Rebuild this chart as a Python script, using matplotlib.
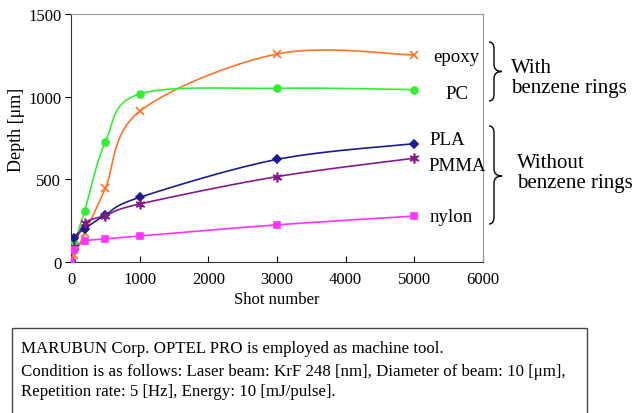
import numpy as np
import matplotlib
matplotlib.use('Agg')
import matplotlib.pyplot as plt
from matplotlib.path import Path
from matplotlib.patches import PathPatch, Rectangle

plt.rcParams['font.family'] = ['Liberation Serif', 'DejaVu Serif']

# data
shots = [0, 50, 200, 500, 1000, 3000, 5000]
epoxy = [0, 45, 175, 446, 911, 1257, 1251]
pc = [0, 115, 311, 726, 1016, 1050, 1042]
pla = [0, 145, 201, 285, 392, 621, 716]
pmma = [0, 95, 235, 282, 352, 517, 628]
nylon = [5, 75, 127, 141, 159, 226, 279]

names = ['epoxy', 'PC', 'PLA', 'PMMA', 'nylon']
series = [epoxy, pc, pla, pmma, nylon]
colors = ['#FF7326', '#33EE33', '#1C1C8E', '#86198C', '#FF33FF']
markers = ['x', 'o', 'D', (6, 2, 0), 's']
msizes = [6, 5, 4, 7, 5]

# label positions (pixels from top-left) for the names on the right
lab_pos = [(433, 61.7), (445, 99), (429, 145), (428, 170.7), (430, 221.7)]

W, H = 634, 414
fig = plt.figure(figsize=(W/100, H/100), dpi=100)
ax = fig.add_axes([71/W, 1-263.3/H, (483-71)/W, (263.3-14.7)/H])
ax.set_xlim(0, 6000)
ax.set_ylim(0, 1500)


def smooth(xs, ys, n=30):
    # excel-like smoothed line, done in pixel space
    pts = ax.transData.transform(np.column_stack([xs, ys]))
    out = []
    for i in range(len(pts)-1):
        p0 = pts[max(i-1, 0)]
        p1 = pts[i]
        p2 = pts[i+1]
        p3 = pts[min(i+2, len(pts)-1)]
        c1 = p1 + (p2-p0)/6
        c2 = p2 - (p3-p1)/6
        t = np.linspace(0, 1, n)[:, None]
        b = (1-t)**3*p1 + 3*(1-t)**2*t*c1 + 3*(1-t)*t**2*c2 + t**3*p2
        out.append(b if i == 0 else b[1:])
    out = np.vstack(out)
    d = ax.transData.inverted().transform(out)
    return d[:, 0], d[:, 1]


for i in range(len(series)):
    sx, sy = smooth(shots, series[i])
    ax.plot(sx, sy, color=colors[i], lw=1.2, zorder=2+i*0.1)
    ax.plot(shots, series[i], ls='none', marker=markers[i], ms=msizes[i],
            color=colors[i], mec=colors[i], mew=1.2, zorder=3+i*0.1)
    fig.text(lab_pos[i][0]/W, 1-lab_pos[i][1]/H, names[i], fontsize=13.6,
             va='baseline', ha='left')

ax.set_xticks([0, 1000, 2000, 3000, 4000, 5000, 6000])
ax.set_yticks([0, 500, 1000, 1500])
ax.tick_params(axis='x', direction='in', length=4, labelsize=12, pad=6)
ax.tick_params(axis='y', direction='out', length=4, labelsize=12, pad=3)
for s in ['top', 'right']:
    ax.spines[s].set_color('#999999')
for s in ['left', 'bottom']:
    ax.spines[s].set_color('#333333')
ax.set_xlabel('Shot number', fontsize=12, labelpad=3)
ax.set_ylabel('Depth [\u03bcm]', fontsize=13)
ax.yaxis.set_label_coords(-0.112, 0.536)


def brace(top, bot, mid, x0=489, xm=494, tip=502):
    r = 7
    verts = [(x0, top), (xm, top), (xm, top+r), (xm, top+r),
             (xm, mid-r), (xm, mid), (tip, mid),
             (xm, mid), (xm, mid+r), (xm, mid+r),
             (xm, bot-r), (xm, bot), (x0, bot)]
    codes = [Path.MOVETO, Path.CURVE3, Path.CURVE3, Path.LINETO,
             Path.LINETO, Path.CURVE3, Path.CURVE3,
             Path.CURVE3, Path.CURVE3, Path.LINETO,
             Path.LINETO, Path.CURVE3, Path.CURVE3]
    v = [(x/W, 1-y/H) for x, y in verts]
    fig.add_artist(PathPatch(Path(v, codes), fc='none', ec='black', lw=1.0,
                             transform=fig.transFigure))


brace(43, 102, 72.5)
brace(127, 225, 177)

fig.text(511/W, 1-72.7/H, 'With', fontsize=15, va='baseline')
fig.text(511/W, 1-92.7/H, 'benzene rings', fontsize=15, va='baseline')
fig.text(517/W, 1-168.3/H, 'Without', fontsize=15, va='baseline')
fig.text(517/W, 1-188.3/H, 'benzene rings', fontsize=15, va='baseline')

# condition box
fig.add_artist(Rectangle((12/W, -0.01), (587-12)/W, 1-329.3/H+0.01,
                         fc='white', ec='#444444', lw=1.0,
                         transform=fig.transFigure))
box_lines = ['MARUBUN Corp. OPTEL PRO is employed as machine tool.',
             'Condition is as follows: Laser beam: KrF 248 [nm], Diameter of beam: 10 [\u03bcm],',
             'Repetition rate: 5 [Hz], Energy: 10 [mJ/pulse].']
for j, yb in enumerate([352.7, 375.7, 396]):
    fig.text(21/W, 1-yb/H, box_lines[j], fontsize=12.2, va='baseline')

fig.savefig('out.png', dpi=100)
